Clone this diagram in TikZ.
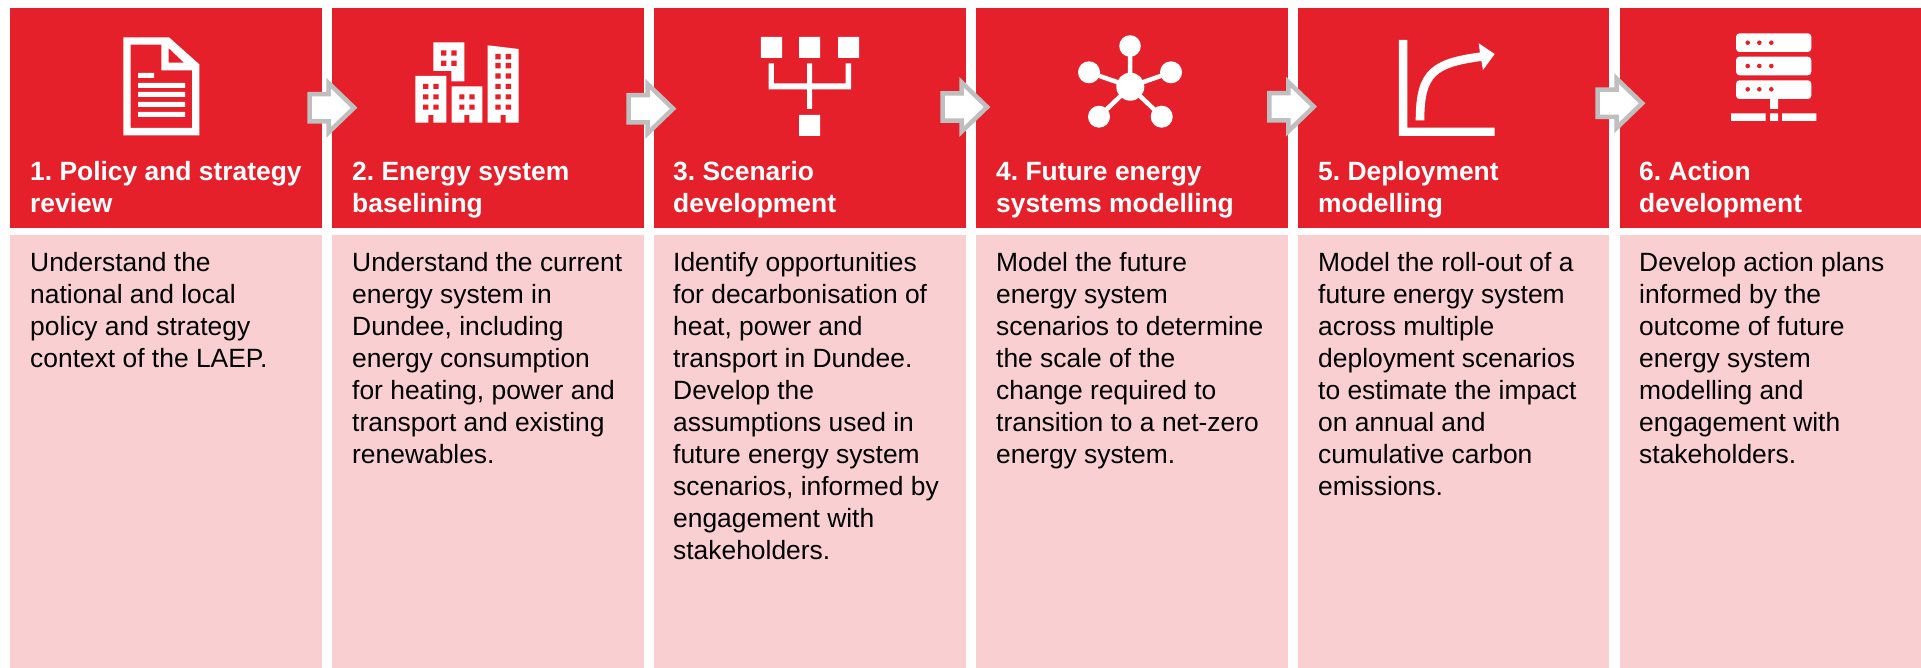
\documentclass[tikz,border=0pt]{standalone}
\usepackage{fontspec}
\setmainfont{Liberation Sans}
\usetikzlibrary{shapes.arrows}
\frenchspacing
\definecolor{headred}{RGB}{230,32,43}
\definecolor{bodypink}{RGB}{249,207,209}
\definecolor{arrowgrey}{RGB}{191,191,191}
\newcommand{\firstline}{\rule{0pt}{20pt}}
\newcommand{\rct}[4]{(#1,#2) rectangle (#3,#4)}
\tikzset{
  x=1pt,y=-1pt,
  headbox/.style={fill=headred,inner sep=0pt,outer sep=0pt,anchor=north west,minimum height=220pt},
  bodybox/.style={fill=bodypink,inner sep=0pt,outer sep=0pt,anchor=north west,minimum height=433pt},
  headtext/.style={anchor=north west,inner sep=0pt,align=left,text=white,font=\fontsize{26.4}{32}\selectfont\bfseries},
  bodytext/.style={anchor=north west,inner sep=0pt,align=left,text=black,font=\fontsize{26.4}{32}\selectfont},
  flowarrow/.style={single arrow,anchor=tip,draw=arrowgrey,fill=white,line width=4.5pt,miter limit=10,
    inner sep=0pt,outer sep=0pt,text height=22.7pt,text depth=0pt,text width=0pt,minimum height=44.4pt,
    single arrow head extend=11pt,single arrow head indent=0pt,single arrow tip angle=88},
  icon/.style={fill=white,draw=none},
  hole/.style={fill=headred,draw=none},
}
\begin{document}
\begin{tikzpicture}
\useasboundingbox (0,0) rectangle (1921,668);
\fill[white] (0,0) rectangle (1921,668);
% panels
\node[headbox,minimum width=312pt] (h1) at (10,8) {};
\node[headbox,minimum width=312pt] (h2) at (332,8) {};
\node[headbox,minimum width=312pt] (h3) at (654,8) {};
\node[headbox,minimum width=312pt] (h4) at (976,8) {};
\node[headbox,minimum width=311pt] (h5) at (1298,8) {};
\node[headbox,minimum width=301pt] (h6) at (1620,8) {};
\node[bodybox,minimum width=312pt] (b1) at (10,235) {};
\node[bodybox,minimum width=312pt] (b2) at (332,235) {};
\node[bodybox,minimum width=312pt] (b3) at (654,235) {};
\node[bodybox,minimum width=312pt] (b4) at (976,235) {};
\node[bodybox,minimum width=311pt] (b5) at (1298,235) {};
\node[bodybox,minimum width=301pt] (b6) at (1620,235) {};
% icon 1: document
\fill[icon,even odd rule] (123.3,37.3) -- (169,37.3) -- (199.3,64.3) -- (199.3,135.3) -- (123.3,135.3) -- cycle
  (130.7,44.7) -- (161.3,44.7) -- (161.3,70.3) -- (192,70.3) -- (192,128) -- (130.7,128) -- cycle
  (168.7,48) -- (184,62.7) -- (168.7,62.7) -- cycle;
\fill[icon] \rct{138}{73}{154}{78} \rct{138}{83}{185}{88} \rct{138}{92}{185}{97} \rct{138}{102}{185}{107} \rct{138}{112}{185}{117};
% icon 2: buildings
\fill[icon] (415.3,76) -- (446.3,76) -- (446.3,122.7) -- (433.3,122.7) -- (433.3,115) -- (428.3,115) -- (428.3,122.7) -- (415.3,122.7) -- cycle;
\fill[icon] (433.3,42.3) -- (464.3,42.3) -- (464.3,81.3) -- (451.3,81.3) -- (451.3,71) -- (433.3,71) -- cycle;
\fill[icon] (451.7,86.3) -- (482.3,86.3) -- (482.3,122.7) -- (469.3,122.7) -- (469.3,115) -- (464.3,115) -- (464.3,122.7) -- (451.7,122.7) -- cycle;
\fill[icon] (487.7,45.3) -- (518.7,49) -- (518.7,122.7) -- (505.7,122.7) -- (505.7,115) -- (500.7,115) -- (500.7,122.7) -- (487.7,122.7) -- cycle;
\foreach \yy in {84,94.3,104.7}{
  \fill[hole] \rct{423}{\yy}{428.3}{\yy+5} \rct{433.3}{\yy}{438.7}{\yy+5};
  \fill[hole] \rct{495.3}{\yy}{500.7}{\yy+5} \rct{505.7}{\yy}{511}{\yy+5};
}
\foreach \yy in {94.3,104.7}
  \fill[hole] \rct{459.3}{\yy}{464.3}{\yy+5} \rct{469.3}{\yy}{474.7}{\yy+5};
\foreach \yy in {50.3,60.7}
  \fill[hole] \rct{441}{\yy}{446.3}{\yy+5.3} \rct{451.3}{\yy}{456.7}{\yy+5.3};
\foreach \yy in {54,63,73.3}
  \fill[hole] \rct{495.3}{\yy}{500.7}{\yy+5.3} \rct{505.7}{\yy}{511}{\yy+5.3};
% icon 3: scenarios
\fill[icon] \rct{760.8}{37}{782}{58} \rct{799.2}{37}{820}{58} \rct{838}{37}{859.2}{58} \rct{799.2}{115}{820}{136};
\fill[icon] \rct{768.6}{63.3}{773.9}{89.3} \rct{807}{63.3}{812.2}{109} \rct{845.7}{63.3}{851}{89.3} \rct{768.6}{83.3}{851}{89.3};
% icon 4: hub
\draw[white,line width=4.5pt] (1130.3,86.7) -- (1130,46) (1130.3,86.7) -- (1089,72.3) (1130.3,86.7) -- (1171,72.3) (1130.3,86.7) -- (1099,116.7) (1130.3,86.7) -- (1161.7,116.7);
\fill[icon] (1130.3,86.7) circle[radius=14] (1130,46) circle[radius=10.8] (1089,72.3) circle[radius=11] (1171,72.3) circle[radius=11] (1099,116.7) circle[radius=11] (1161.7,116.7) circle[radius=11];
% icon 5: graph
\fill[icon] (1398.8,40) -- (1407.3,40) -- (1407.3,127.7) -- (1494.7,127.7) -- (1494.7,136) -- (1398.8,136) -- cycle;
\draw[white,line width=8.6pt] (1420,120.3) .. controls (1420,72) and (1434,63) .. (1482,56.5);
\fill[icon] (1494.7,54) -- (1478.7,43.3) -- (1480.5,56.7) -- (1483,70) -- cycle;
% icon 6: server
\fill[icon,rounded corners=3.5pt] \rct{1736}{33.3}{1811.3}{52};
\fill[icon,rounded corners=3.5pt] \rct{1736}{56.7}{1811.3}{75.3};
\fill[icon,rounded corners=3.5pt] \rct{1736}{80.3}{1811.3}{99};
\fill[icon] \rct{1770}{99}{1778}{109} \rct{1770}{113.3}{1778}{121} \rct{1731}{113.3}{1765.7}{121} \rct{1782}{113.3}{1816.3}{121};
\foreach \yy in {42.7,66,89.3}
  \fill[hole] (1747.7,\yy) circle[radius=2.3] (1759.3,\yy) circle[radius=2.3] (1771.3,\yy) circle[radius=2.3];
% headings
\node[headtext] (ht1) at (30,160) {\firstline 1. Policy and strategy\\review};
\node[headtext] (ht2) at (352,160) {\firstline 2. Energy system\\baselining};
\node[headtext] (ht3) at (673,160) {\firstline 3. Scenario\\development};
\node[headtext] (ht4) at (996,160) {\firstline 4. Future energy\\systems modelling};
\node[headtext] (ht5) at (1318,160) {\firstline 5. Deployment\\modelling};
\node[headtext] (ht6) at (1639,160) {\firstline 6. Action\\development};
% bodies
\node[bodytext] (bt1) at (30,251) {\firstline Understand the\\national and local\\policy and strategy\\context of the LAEP.};
\node[bodytext] (bt2) at (352,251) {\firstline Understand the current\\energy system in\\Dundee, including\\energy consumption\\for heating, power and\\transport and existing\\renewables.};
\node[bodytext] (bt3) at (673,251) {\firstline Identify opportunities\\for decarbonisation of\\heat, power and\\transport in Dundee.\\Develop the\\assumptions used in\\future energy system\\scenarios, informed by\\engagement with\\stakeholders.};
\node[bodytext] (bt4) at (996,251) {\firstline Model the future\\energy system\\scenarios to determine\\the scale of the\\change required to\\transition to a net-zero\\energy system.};
\node[bodytext] (bt5) at (1318,251) {\firstline Model the roll-out of a\\future energy system\\across multiple\\deployment scenarios\\to estimate the impact\\on annual and\\cumulative carbon\\emissions.};
\node[bodytext] (bt6) at (1639,251) {\firstline Develop action plans\\informed by the\\outcome of future\\energy system\\modelling and\\engagement with\\stakeholders.};
% flow arrows
\node[flowarrow] (a12) at (354.1,107.7) {};
\node[flowarrow] (a23) at (673.1,108.7) {};
\node[flowarrow] (a34) at (987.1,107) {};
\node[flowarrow] (a45) at (1313.8,106.7) {};
\node[flowarrow] (a56) at (1642.1,103.3) {};
\end{tikzpicture}
\end{document}
